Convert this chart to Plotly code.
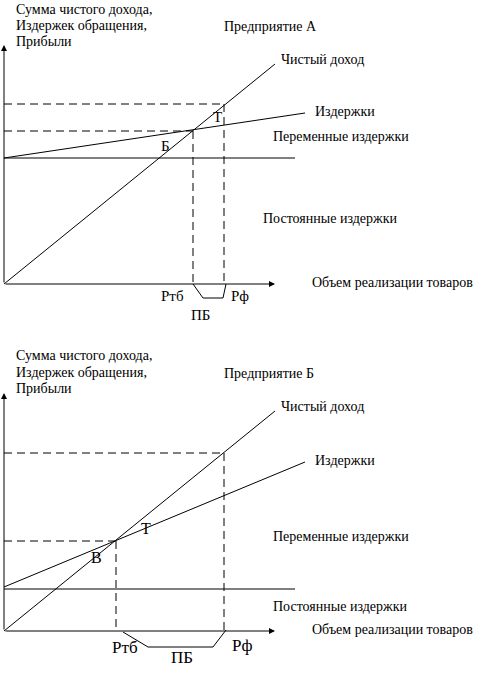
import plotly.graph_objects as go

# ---- data (model units: volume on x, amount on y) ----
# Panel A (Предприятие А)
A_revenue_x = [0, 271]
A_revenue_y = [0, 220]
A_fixed_x = [0, 291]
A_fixed_y = [126, 126]
A_cost_x = [0, 301]
A_cost_y = [126, 171]
A_breakeven = (189, 153)
A_actual = (220, 180)
A_bracket_x = [189, 199, 219, 222]
A_bracket_y = [0, -14, -14, 0]
A_yaxis_top = 239
A_xaxis_end = 271

# Panel B (Предприятие Б)
B_revenue_x = [0, 271]
B_revenue_y = [0, 220]
B_fixed_x = [0, 291]
B_fixed_y = [42, 42]
B_cost_x = [0, 301]
B_cost_y = [44, 169]
B_breakeven = (112, 90)
B_actual = (220, 178)
B_bracket_x = [119, 144, 209, 222]
B_bracket_y = [-1, -16, -16, 1]
B_yaxis_top = 238
B_xaxis_end = 271

FONT = "Liberation Serif"
BLACK = "#000000"

fig = go.Figure()


def add_panel(xr, yr, rev_x, rev_y, fix_x, fix_y, cost_x, cost_y, be, act, br_x, br_y):
    solid = dict(color=BLACK, width=1)
    dash = dict(color=BLACK, width=1, dash="8px,5px")
    for xs, ys in [(rev_x, rev_y), (fix_x, fix_y), (cost_x, cost_y)]:
        fig.add_trace(go.Scatter(x=xs, y=ys, mode="lines", line=solid,
                                 xaxis=xr, yaxis=yr, hoverinfo="skip", showlegend=False))
    # dashed guides
    for xs, ys in [([0, be[0]], [be[1], be[1]]), ([be[0], be[0]], [be[1], 0]),
                   ([0, act[0]], [act[1], act[1]]), ([act[0], act[0]], [act[1], 0])]:
        fig.add_trace(go.Scatter(x=xs, y=ys, mode="lines", line=dash,
                                 xaxis=xr, yaxis=yr, hoverinfo="skip", showlegend=False))
    fig.add_trace(go.Scatter(x=br_x, y=br_y, mode="lines", line=solid,
                             xaxis=xr, yaxis=yr, hoverinfo="skip", showlegend=False))


add_panel("x", "y", A_revenue_x, A_revenue_y, A_fixed_x, A_fixed_y, A_cost_x, A_cost_y,
          A_breakeven, A_actual, A_bracket_x, A_bracket_y)
add_panel("x2", "y2", B_revenue_x, B_revenue_y, B_fixed_x, B_fixed_y, B_cost_x, B_cost_y,
          B_breakeven, B_actual, B_bracket_x, B_bracket_y)

ann = []


def arrow(xr, yr, x, y, ax, ay):
    ann.append(dict(x=x, y=y, ax=ax, ay=ay, xref=xr, yref=yr, axref=xr, ayref=yr,
                    showarrow=True, arrowhead=2, arrowsize=1.2, arrowwidth=1,
                    arrowcolor=BLACK, text=""))


def label(xr, yr, x, y, text, size=14, anchor="left"):
    ann.append(dict(x=x, y=y, xref=xr, yref=yr, text=text, showarrow=False,
                    xanchor=anchor, yanchor="middle",
                    font=dict(family=FONT, size=size, color=BLACK)))


# Panel A
arrow("x", "y", 0, A_yaxis_top, 0, 0)
arrow("x", "y", A_xaxis_end, 0, 0, 0)
label("x", "y", 10, 275, "Сумма чистого дохода,")
label("x", "y", 10, 259, "Издержек обращения,")
label("x", "y", 10, 243, "Прибыли")
label("x", "y", 218, 258, "Предприятие А")
label("x", "y", 275, 225, "Чистый доход")
label("x", "y", 309, 173, "Издержки")
label("x", "y", 267, 148, "Переменные издержки")
label("x", "y", 257, 66, "Постоянные издержки")
label("x", "y", 306, 2, "Объем реализации товаров")
label("x", "y", 161, 138, "Б", 15, "center")
label("x", "y", 213, 167, "Т", 15, "center")
label("x", "y", 168, -12, "Ртб", 15, "center")
label("x", "y", 236, -12, "Рф", 15, "center")
label("x", "y", 196, -31, "ПБ", 15, "center")

# Panel B
arrow("x2", "y2", 0, B_yaxis_top, 0, 0)
arrow("x2", "y2", B_xaxis_end, 0, 0, 0)
label("x2", "y2", 10, 276, "Сумма чистого дохода,")
label("x2", "y2", 10, 259, "Издержек обращения,")
label("x2", "y2", 10, 243, "Прибыли")
label("x2", "y2", 218, 258, "Предприятие Б")
label("x2", "y2", 275, 225, "Чистый доход")
label("x2", "y2", 309, 171, "Издержки")
label("x2", "y2", 267, 95, "Переменные издержки")
label("x2", "y2", 267, 25, "Постоянные издержки")
label("x2", "y2", 306, 2, "Объем реализации товаров")
label("x2", "y2", 92, 74, "В", 16, "center")
label("x2", "y2", 142, 103, "Т", 16, "center")
label("x2", "y2", 121, -16, "Ртб", 17, "center")
label("x2", "y2", 238, -14, "Рф", 17, "center")
label("x2", "y2", 178, -26, "ПБ", 17, "center")

ax_style = dict(showgrid=False, zeroline=False, showticklabels=False, showline=False,
                ticks="", fixedrange=True)

fig.update_layout(
    width=489, height=674,
    margin=dict(l=0, r=0, t=0, b=0),
    paper_bgcolor="white", plot_bgcolor="white",
    showlegend=False,
    xaxis=dict(domain=[0, 1], range=[-4, 485], anchor="y", **ax_style),
    yaxis=dict(domain=[0.5, 1], range=[-53, 284], anchor="x", **ax_style),
    xaxis2=dict(domain=[0, 1], range=[-4, 485], anchor="y2", **ax_style),
    yaxis2=dict(domain=[0, 0.5], range=[-43, 294], anchor="x2", **ax_style),
    annotations=ann,
)

fig.write_html("out.html", config={"displayModeBar": False},
               post_script="document.body.style.margin='0';document.body.style.overflow='hidden';")
